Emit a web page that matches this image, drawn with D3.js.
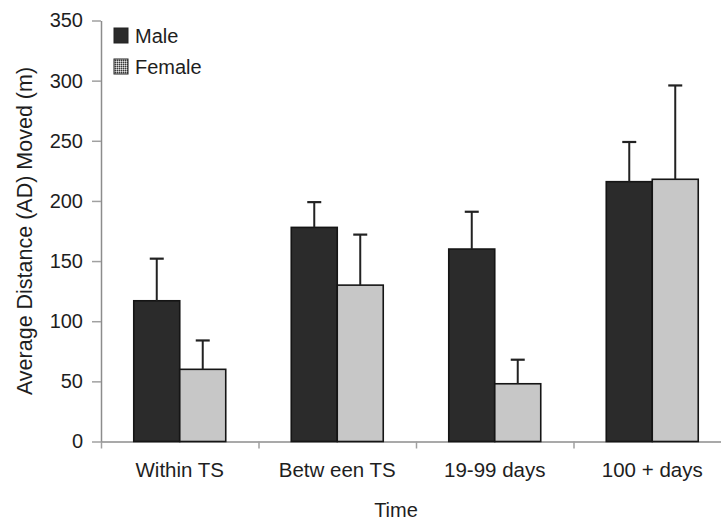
<!DOCTYPE html>
<html>
<head>
<meta charset="utf-8">
<script src="https://cdn.jsdelivr.net/npm/d3@7/dist/d3.min.js"></script>
<style>
  html, body { margin: 0; padding: 0; background: #fff; }
  svg { display: block; }
  text { font-family: "Liberation Sans", Arial, sans-serif; fill: #1e1e1e; }
</style>
</head>
<body>
<svg id="chart" width="721" height="524"></svg>
<script>
// Average distance moved by period, per sex
const categories = ["Within TS", "Betw een TS", "19-99 days", "100 + days"];
const series = ["Male", "Female"];
const maleMeans = [117, 178, 160, 216];
const maleErrors = [35, 21, 31, 33];
const femaleMeans = [60, 130, 48, 218];
const femaleErrors = [24, 42, 20, 78];
const yTicks = [0, 50, 100, 150, 200, 250, 300, 350];

const fills = { Male: "#2b2b2b", Female: "#c7c7c7" };
const rows = categories.map((c, i) => ({
  category: c,
  values: [
    { key: "Male", mean: maleMeans[i], err: maleErrors[i] },
    { key: "Female", mean: femaleMeans[i], err: femaleErrors[i] }
  ]
}));

const svg = d3.select("#chart");
const plotLeft = 101, plotRight = 731, plotTop = 20.5, plotBottom = 441.5;

const x = d3.scaleBand().domain(categories).range([plotLeft, plotRight])
  .paddingInner(0.416).paddingOuter(0.208);
const xs = d3.scaleBand().domain(series).range([0, x.bandwidth()]);
const y = d3.scaleLinear().domain([0, 350]).range([plotBottom, plotTop]);

// checkered fill used for the Female legend key
const defs = svg.append("defs");
const pat = defs.append("pattern").attr("id", "chk")
  .attr("width", 2).attr("height", 2).attr("patternUnits", "userSpaceOnUse");
pat.append("rect").attr("width", 2).attr("height", 2).attr("fill", "#9a9a9a");
pat.append("rect").attr("width", 1).attr("height", 1).attr("fill", "#e0e0e0");
pat.append("rect").attr("x", 1).attr("y", 1).attr("width", 1).attr("height", 1).attr("fill", "#3a3a3a");

// y axis
const yAxis = svg.append("g").attr("transform", `translate(${plotLeft},0)`)
  .call(d3.axisLeft(y).tickValues(yTicks).tickSize(9).tickSizeOuter(0).tickPadding(9));
yAxis.select(".domain").attr("stroke", "#8c8c8c").attr("stroke-width", 1.5);
yAxis.selectAll(".tick line").attr("stroke", "#a0a0a0").attr("stroke-width", 1.5);
yAxis.selectAll(".tick text").style("font-size", "20px").attr("fill", "#1e1e1e");

// x axis with ticks on the category boundaries
const xb = d3.scaleLinear().domain([0, categories.length]).range([plotLeft, plotRight]);
const xAxis = svg.append("g").attr("transform", `translate(0,${plotBottom})`)
  .call(d3.axisBottom(xb).tickValues(d3.range(categories.length + 1))
    .tickFormat("").tickSize(7).tickSizeOuter(0));
xAxis.select(".domain").attr("stroke", "#8c8c8c").attr("stroke-width", 1.5);
xAxis.selectAll(".tick line").attr("stroke", "#a0a0a0").attr("stroke-width", 1.5);

// bars
const groups = svg.append("g").selectAll("g").data(rows).join("g")
  .attr("transform", d => `translate(${x(d.category)},0)`);

groups.selectAll("rect").data(d => d.values).join("rect")
  .attr("x", d => xs(d.key))
  .attr("y", d => y(d.mean))
  .attr("width", xs.bandwidth())
  .attr("height", d => y(0) - y(d.mean))
  .attr("fill", d => fills[d.key])
  .attr("stroke", "#151515")
  .attr("stroke-width", 1.6);

// error bars (upper only)
const eb = groups.selectAll("g.err").data(d => d.values).join("g").attr("class", "err");
eb.append("line")
  .attr("x1", d => xs(d.key) + xs.bandwidth() / 2)
  .attr("x2", d => xs(d.key) + xs.bandwidth() / 2)
  .attr("y1", d => y(d.mean))
  .attr("y2", d => y(d.mean + d.err))
  .attr("stroke", "#222").attr("stroke-width", 2);
eb.append("line")
  .attr("x1", d => xs(d.key) + xs.bandwidth() / 2 - 7)
  .attr("x2", d => xs(d.key) + xs.bandwidth() / 2 + 7)
  .attr("y1", d => y(d.mean + d.err))
  .attr("y2", d => y(d.mean + d.err))
  .attr("stroke", "#222").attr("stroke-width", 2.2);

// category labels
svg.append("g").selectAll("text").data(categories).join("text")
  .attr("x", d => x(d) + x.bandwidth() / 2)
  .attr("y", 477)
  .attr("text-anchor", "middle")
  .style("font-size", "20.5px")
  .text(d => d);

// axis titles
svg.append("text").attr("x", 396).attr("y", 517).attr("text-anchor", "middle")
  .style("font-size", "20px").text("Time");
svg.append("text").attr("transform", "translate(32,231) rotate(-90)")
  .attr("text-anchor", "middle").style("font-size", "21.5px")
  .text("Average Distance (AD) Moved (m)");

// legend
const legend = svg.append("g").attr("transform", "translate(114,28)");
const li = legend.selectAll("g").data(series).join("g")
  .attr("transform", (d, i) => `translate(0,${i * 31})`);
li.append("rect").attr("width", 14).attr("height", 15)
  .attr("fill", d => d === "Male" ? fills.Male : "url(#chk)")
  .attr("stroke", "#222").attr("stroke-width", 1);
li.append("text").attr("x", 21).attr("y", 14.5).style("font-size", "20px").text(d => d);
</script>
</body>
</html>
